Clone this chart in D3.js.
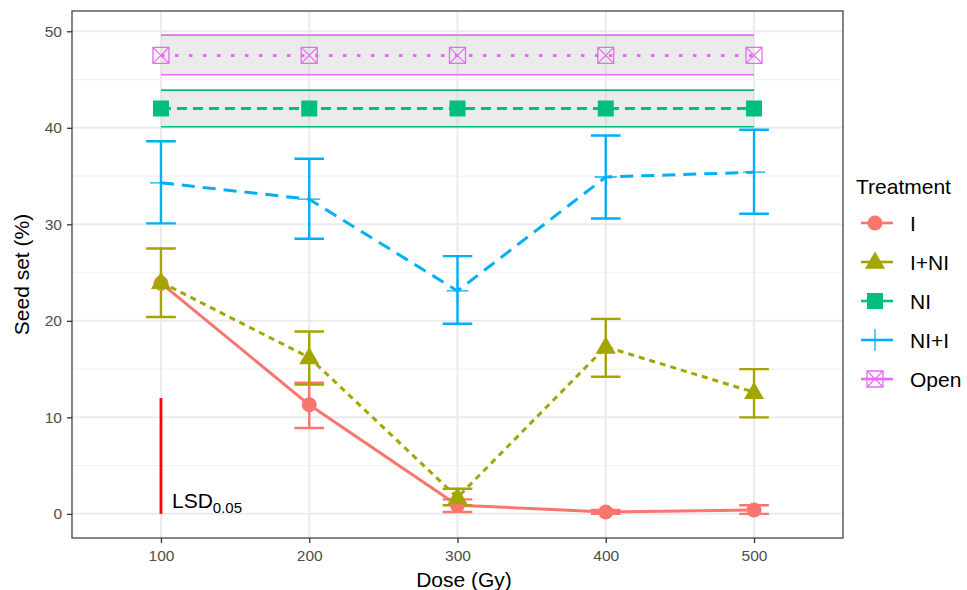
<!DOCTYPE html>
<html>
<head>
<meta charset="utf-8">
<script src="https://cdn.jsdelivr.net/npm/d3@7"></script>
<style>
	body { margin: 0; background: #fff; }
	svg { font-family: "Liberation Sans", Arial, Helvetica, sans-serif; }
</style>
</head>
<body>
<div id="chart"></div>
<script>
// Doses (x categories) and treatments
const doses = [100, 200, 300, 400, 500];
const treatments = ['I', 'I+NI', 'NI', 'NI+I', 'Open'];
const treatmentColors = ['#F8766D', '#A3A500', '#00BF7D', '#00B0F6', '#E76BF3'];
const yTicks = [0, 10, 20, 30, 40, 50];
const yMinor = [5, 15, 25, 35, 45];

// Seed set (%) mean, lower and upper values per treatment
const iMean = [23.9, 11.3, 0.9, 0.2, 0.4];
const iLow = [23.9, 8.9, 0.2, 0.0, 0.0];
const iHigh = [23.9, 13.6, 1.5, 0.4, 0.9];

const inMean = [24.0, 16.2, 1.7, 17.3, 12.6];
const inLow = [20.4, 13.4, 0.9, 14.2, 10.0];
const inHigh = [27.5, 18.9, 2.6, 20.2, 15.0];

const niMean = [42.0, 42.0, 42.0, 42.0, 42.0];
const niLow = [40.1, 40.1, 40.1, 40.1, 40.1];
const niHigh = [43.9, 43.9, 43.9, 43.9, 43.9];

const niiMean = [34.3, 32.6, 23.1, 34.9, 35.4];
const niiLow = [30.1, 28.5, 19.7, 30.6, 31.1];
const niiHigh = [38.6, 36.8, 26.7, 39.2, 39.8];

const openMean = [47.5, 47.5, 47.5, 47.5, 47.5];
const openLow = [45.5, 45.5, 45.5, 45.5, 45.5];
const openHigh = [49.6, 49.6, 49.6, 49.6, 49.6];

// LSD bar
const lsdDose = 100;
const lsdValue = 12;

(function() {
	const W = 967, H = 590;
	const panel = { left: 72, right: 843, top: 11, bottom: 538 };

	const svg = d3.select('#chart').append('svg')
		.attr('width', W)
		.attr('height', H);

	const x = d3.scalePoint().domain(doses).range([panel.left, panel.right]).padding(0.6);
	const y = d3.scaleLinear().domain([-2.5, 52.1]).range([panel.bottom, panel.top]);
	const capHalf = x.step() * 0.1;

	function rows(mean, low, high) {
		return doses.map(function(d, i) { return { dose: d, mean: mean[i], low: low[i], high: high[i] }; });
	}

	const series = [
		{ name: 'I', data: rows(iMean, iLow, iHigh), dash: null, ribbon: false, shape: 'circle' },
		{ name: 'I+NI', data: rows(inMean, inLow, inHigh), dash: '6,5', ribbon: false, shape: 'triangle' },
		{ name: 'NI', data: rows(niMean, niLow, niHigh), dash: '10,6', ribbon: true, shape: 'square' },
		{ name: 'NI+I', data: rows(niiMean, niiLow, niiHigh), dash: '13,8', ribbon: false, shape: 'plus' },
		{ name: 'Open', data: rows(openMean, openLow, openHigh), dash: '3.5,10.5', ribbon: true, shape: 'boxx' }
	];
	series.forEach(function(s) { s.color = treatmentColors[treatments.indexOf(s.name)]; });

	// Panel background and grid
	svg.append('rect')
		.attr('x', panel.left).attr('y', panel.top)
		.attr('width', panel.right - panel.left).attr('height', panel.bottom - panel.top)
		.attr('fill', '#fff');

	svg.append('g').selectAll('line').data(yMinor).enter().append('line')
		.attr('x1', panel.left).attr('x2', panel.right)
		.attr('y1', function(d) { return y(d); }).attr('y2', function(d) { return y(d); })
		.attr('stroke', '#F2F2F2').attr('stroke-width', 1.2);
	svg.append('g').selectAll('line').data(yTicks).enter().append('line')
		.attr('x1', panel.left).attr('x2', panel.right)
		.attr('y1', function(d) { return y(d); }).attr('y2', function(d) { return y(d); })
		.attr('stroke', '#EBEBEB').attr('stroke-width', 2);
	svg.append('g').selectAll('line').data(doses).enter().append('line')
		.attr('y1', panel.top).attr('y2', panel.bottom)
		.attr('x1', function(d) { return x(d); }).attr('x2', function(d) { return x(d); })
		.attr('stroke', '#EBEBEB').attr('stroke-width', 2);

	const plot = svg.append('g');

	// Ribbons (grey band with coloured edges)
	series.filter(function(s) { return s.ribbon; }).forEach(function(s) {
		plot.append('path')
			.attr('d', d3.area()
				.x(function(d) { return x(d.dose); })
				.y0(function(d) { return y(d.low); })
				.y1(function(d) { return y(d.high); })(s.data))
			.attr('fill', '#BDBDBD').attr('fill-opacity', 0.3);
		['low', 'high'].forEach(function(k) {
			plot.append('path')
				.attr('d', d3.line()
					.x(function(d) { return x(d.dose); })
					.y(function(d) { return y(d[k]); })(s.data))
				.attr('fill', 'none').attr('stroke', s.color).attr('stroke-width', 1.6);
		});
	});

	// Lines
	series.forEach(function(s) {
		plot.append('path')
			.attr('d', d3.line()
				.x(function(d) { return x(d.dose); })
				.y(function(d) { return y(d.mean); })(s.data))
			.attr('fill', 'none')
			.attr('stroke', s.color)
			.attr('stroke-width', 3)
			.attr('stroke-dasharray', s.dash);
	});

	// Error bars
	series.filter(function(s) { return !s.ribbon; }).forEach(function(s) {
		const g = plot.append('g').attr('stroke', s.color).attr('stroke-width', 2.4).attr('fill', 'none');
		s.data.filter(function(d) { return d.high > d.low; }).forEach(function(d) {
			const cx = x(d.dose);
			g.append('path').attr('d',
				'M' + (cx - capHalf) + ',' + y(d.high) + 'H' + (cx + capHalf) +
				'M' + cx + ',' + y(d.high) + 'V' + y(d.low) +
				'M' + (cx - capHalf) + ',' + y(d.low) + 'H' + (cx + capHalf));
		});
	});

	function drawShape(g, shape, cx, cy, color) {
		if (shape === 'circle') {
			g.append('circle').attr('cx', cx).attr('cy', cy).attr('r', 7.5).attr('fill', color);
		} else if (shape === 'triangle') {
			g.append('path').attr('transform', 'translate(' + cx + ',' + (cy + 1) + ')')
				.attr('d', d3.symbol().type(d3.symbolTriangle).size(175)()).attr('fill', color);
		} else if (shape === 'square') {
			g.append('rect').attr('x', cx - 8).attr('y', cy - 8).attr('width', 16).attr('height', 16).attr('fill', color);
		} else if (shape === 'plus') {
			g.append('path').attr('d', 'M' + (cx - 11) + ',' + cy + 'H' + (cx + 11) + 'M' + cx + ',' + (cy - 11) + 'V' + (cy + 11))
				.attr('stroke', color).attr('stroke-width', 1.3).attr('fill', 'none');
		} else if (shape === 'boxx') {
			const h = 8;
			g.append('path').attr('d',
				'M' + (cx - h) + ',' + (cy - h) + 'H' + (cx + h) + 'V' + (cy + h) + 'H' + (cx - h) + 'Z' +
				'M' + (cx - h) + ',' + (cy - h) + 'L' + (cx + h) + ',' + (cy + h) +
				'M' + (cx + h) + ',' + (cy - h) + 'L' + (cx - h) + ',' + (cy + h))
				.attr('stroke', color).attr('stroke-width', 1.3).attr('fill', 'none');
		}
	}

	// Points
	series.forEach(function(s) {
		const g = plot.append('g');
		s.data.forEach(function(d) { drawShape(g, s.shape, x(d.dose), y(d.mean), s.color); });
	});

	// LSD bar and label
	plot.append('line')
		.attr('x1', x(lsdDose)).attr('x2', x(lsdDose))
		.attr('y1', y(0)).attr('y2', y(lsdValue))
		.attr('stroke', '#FF0000').attr('stroke-width', 2.8);
	const lsd = plot.append('text')
		.attr('x', x(lsdDose) + 11).attr('y', y(0) - 6)
		.style('font-size', '21px').attr('fill', '#000');
	lsd.append('tspan').text('LSD');
	lsd.append('tspan').attr('dy', 5).style('font-size', '15px').text('0.05');

	// Panel border
	svg.append('rect')
		.attr('x', panel.left).attr('y', panel.top)
		.attr('width', panel.right - panel.left).attr('height', panel.bottom - panel.top)
		.attr('fill', 'none').attr('stroke', '#444').attr('stroke-width', 1.3);

	// Axes
	const xAxis = svg.append('g')
		.attr('transform', 'translate(0,' + panel.bottom + ')')
		.call(d3.axisBottom(x).tickSize(5).tickPadding(7));
	const yAxis = svg.append('g')
		.attr('transform', 'translate(' + panel.left + ',0)')
		.call(d3.axisLeft(y).tickValues(yTicks).tickSize(5).tickPadding(5));
	[xAxis, yAxis].forEach(function(a) {
		a.select('.domain').remove();
		a.selectAll('.tick line').attr('stroke', '#333').attr('stroke-width', 1.3);
		a.selectAll('.tick text').attr('fill', '#4D4D4D').style('font-size', '15.5px')
			.style('font-family', '"Liberation Sans", Arial, Helvetica, sans-serif');
	});

	// Axis titles
	svg.append('text')
		.attr('x', 464).attr('y', 587)
		.attr('text-anchor', 'middle').style('font-size', '21px').attr('fill', '#000')
		.text('Dose (Gy)');
	svg.append('text')
		.attr('transform', 'translate(29,' + ((panel.top + panel.bottom) / 2) + ') rotate(-90)')
		.attr('text-anchor', 'middle').style('font-size', '21px').attr('fill', '#000')
		.text('Seed set (%)');

	// Legend
	const legend = svg.append('g');
	legend.append('text')
		.attr('x', 856).attr('y', 194)
		.style('font-size', '21px').attr('fill', '#000')
		.text('Treatment');
	series.forEach(function(s, i) {
		const cy = 223 + i * 39;
		legend.append('line')
			.attr('x1', 861).attr('x2', 893).attr('y1', cy).attr('y2', cy)
			.attr('stroke', s.color).attr('stroke-width', 2.6);
		drawShape(legend, s.shape, 875, cy, s.color);
		legend.append('text')
			.attr('x', 910).attr('y', cy).attr('dy', '0.36em')
			.style('font-size', '21px').attr('fill', '#000')
			.text(s.name);
	});
})();
</script>
</body>
</html>
